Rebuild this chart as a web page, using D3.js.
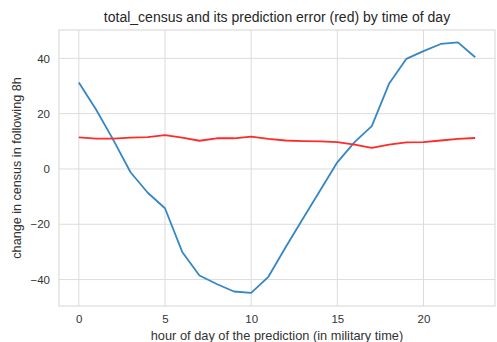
<!DOCTYPE html>
<html>
<head>
<meta charset="utf-8">
<script src="https://cdn.jsdelivr.net/npm/d3@7"></script>
<style>
  body { margin: 0; background: #fff; }
  svg { font-family: Arial, "Liberation Sans", sans-serif; }
</style>
</head>
<body>
<div id="chart"></div>
<script>
// hours 0..23
const hours = d3.range(0, 24);
// total_census change (blue)
const census = [31.3, 21.5, 10.5, -1.2, -8.6, -14.2, -30, -38.5, -41.6, -44.3, -44.8, -39,
                -28.3, -18, -7.8, 2.4, 9.7, 15.5, 30.8, 39.8, 42.6, 45.2, 45.8, 40.4];
// prediction error (red)
const predError = [11.4, 11.0, 11.0, 11.3, 11.5, 12.2, 11.3, 10.2, 11.1, 11.1, 11.7, 10.9,
                   10.3, 10.1, 10.0, 9.7, 8.8, 7.6, 8.8, 9.6, 9.7, 10.3, 10.9, 11.2];
const xTicks = [0, 5, 10, 15, 20];
const yTicks = [-40, -20, 0, 20, 40];

const W = 497, H = 342;
const margin = {top: 30, right: 2, bottom: 36, left: 59};
const width = W - margin.left - margin.right;
const height = H - margin.top - margin.bottom;

const svg = d3.select('#chart')
    .append('svg')
    .attr('width', W)
    .attr('height', H);

const g = svg.append('g')
    .attr('transform', `translate(${margin.left},${margin.top})`);

// matplotlib style 5% margins
const x = d3.scaleLinear().domain([-1.15, 24.15]).range([0, width]);
const y = d3.scaleLinear().domain([-49.55, 50.25]).range([height, 0]);

// grid
g.append('g')
    .selectAll('line')
    .data(xTicks)
    .enter().append('line')
    .attr('x1', d => x(d)).attr('x2', d => x(d))
    .attr('y1', 0).attr('y2', height)
    .attr('stroke', '#dcdcdc').attr('stroke-width', 1);

g.append('g')
    .selectAll('line')
    .data(yTicks)
    .enter().append('line')
    .attr('y1', d => y(d)).attr('y2', d => y(d))
    .attr('x1', 0).attr('x2', width)
    .attr('stroke', '#dcdcdc').attr('stroke-width', 1);

// frame
g.append('rect')
    .attr('width', width).attr('height', height)
    .attr('fill', 'none')
    .attr('stroke', '#d6d6d6');

// axes (no tick marks)
const xAxis = g.append('g')
    .attr('transform', `translate(0,${height})`)
    .call(d3.axisBottom(x).tickValues(xTicks).tickSize(0).tickPadding(9));
const yAxis = g.append('g')
    .call(d3.axisLeft(y).tickValues(yTicks).tickSize(0).tickPadding(9).tickFormat(d3.format('d')));
[xAxis, yAxis].forEach(a => {
    a.select('.domain').remove();
    a.selectAll('text').attr('fill', '#333').attr('font-size', 11.5);
});

const line = d3.line()
    .x((d, i) => x(hours[i]))
    .y(d => y(d));

g.append('path')
    .datum(census)
    .attr('fill', 'none')
    .attr('stroke', '#3587c6')
    .attr('stroke-width', 1.8)
    .attr('stroke-linejoin', 'round')
    .attr('d', line);

g.append('path')
    .datum(predError)
    .attr('fill', 'none')
    .attr('stroke', '#ff2a2a')
    .attr('stroke-width', 1.8)
    .attr('stroke-linejoin', 'round')
    .attr('d', line);

// title & labels
svg.append('text')
    .attr('x', margin.left + width / 2)
    .attr('y', 22)
    .attr('text-anchor', 'middle')
    .attr('font-size', 14)
    .attr('fill', '#262626')
    .text('total_census and its prediction error (red) by time of day');

svg.append('text')
    .attr('x', margin.left + width / 2)
    .attr('y', 340)
    .attr('text-anchor', 'middle')
    .attr('font-size', 12.8)
    .attr('fill', '#333')
    .text('hour of day of the prediction (in military time)');

svg.append('text')
    .attr('transform', `translate(21,${margin.top + height / 2}) rotate(-90)`)
    .attr('text-anchor', 'middle')
    .attr('font-size', 12.6)
    .attr('fill', '#333')
    .text('change in census in following 8h');
</script>
</body>
</html>
